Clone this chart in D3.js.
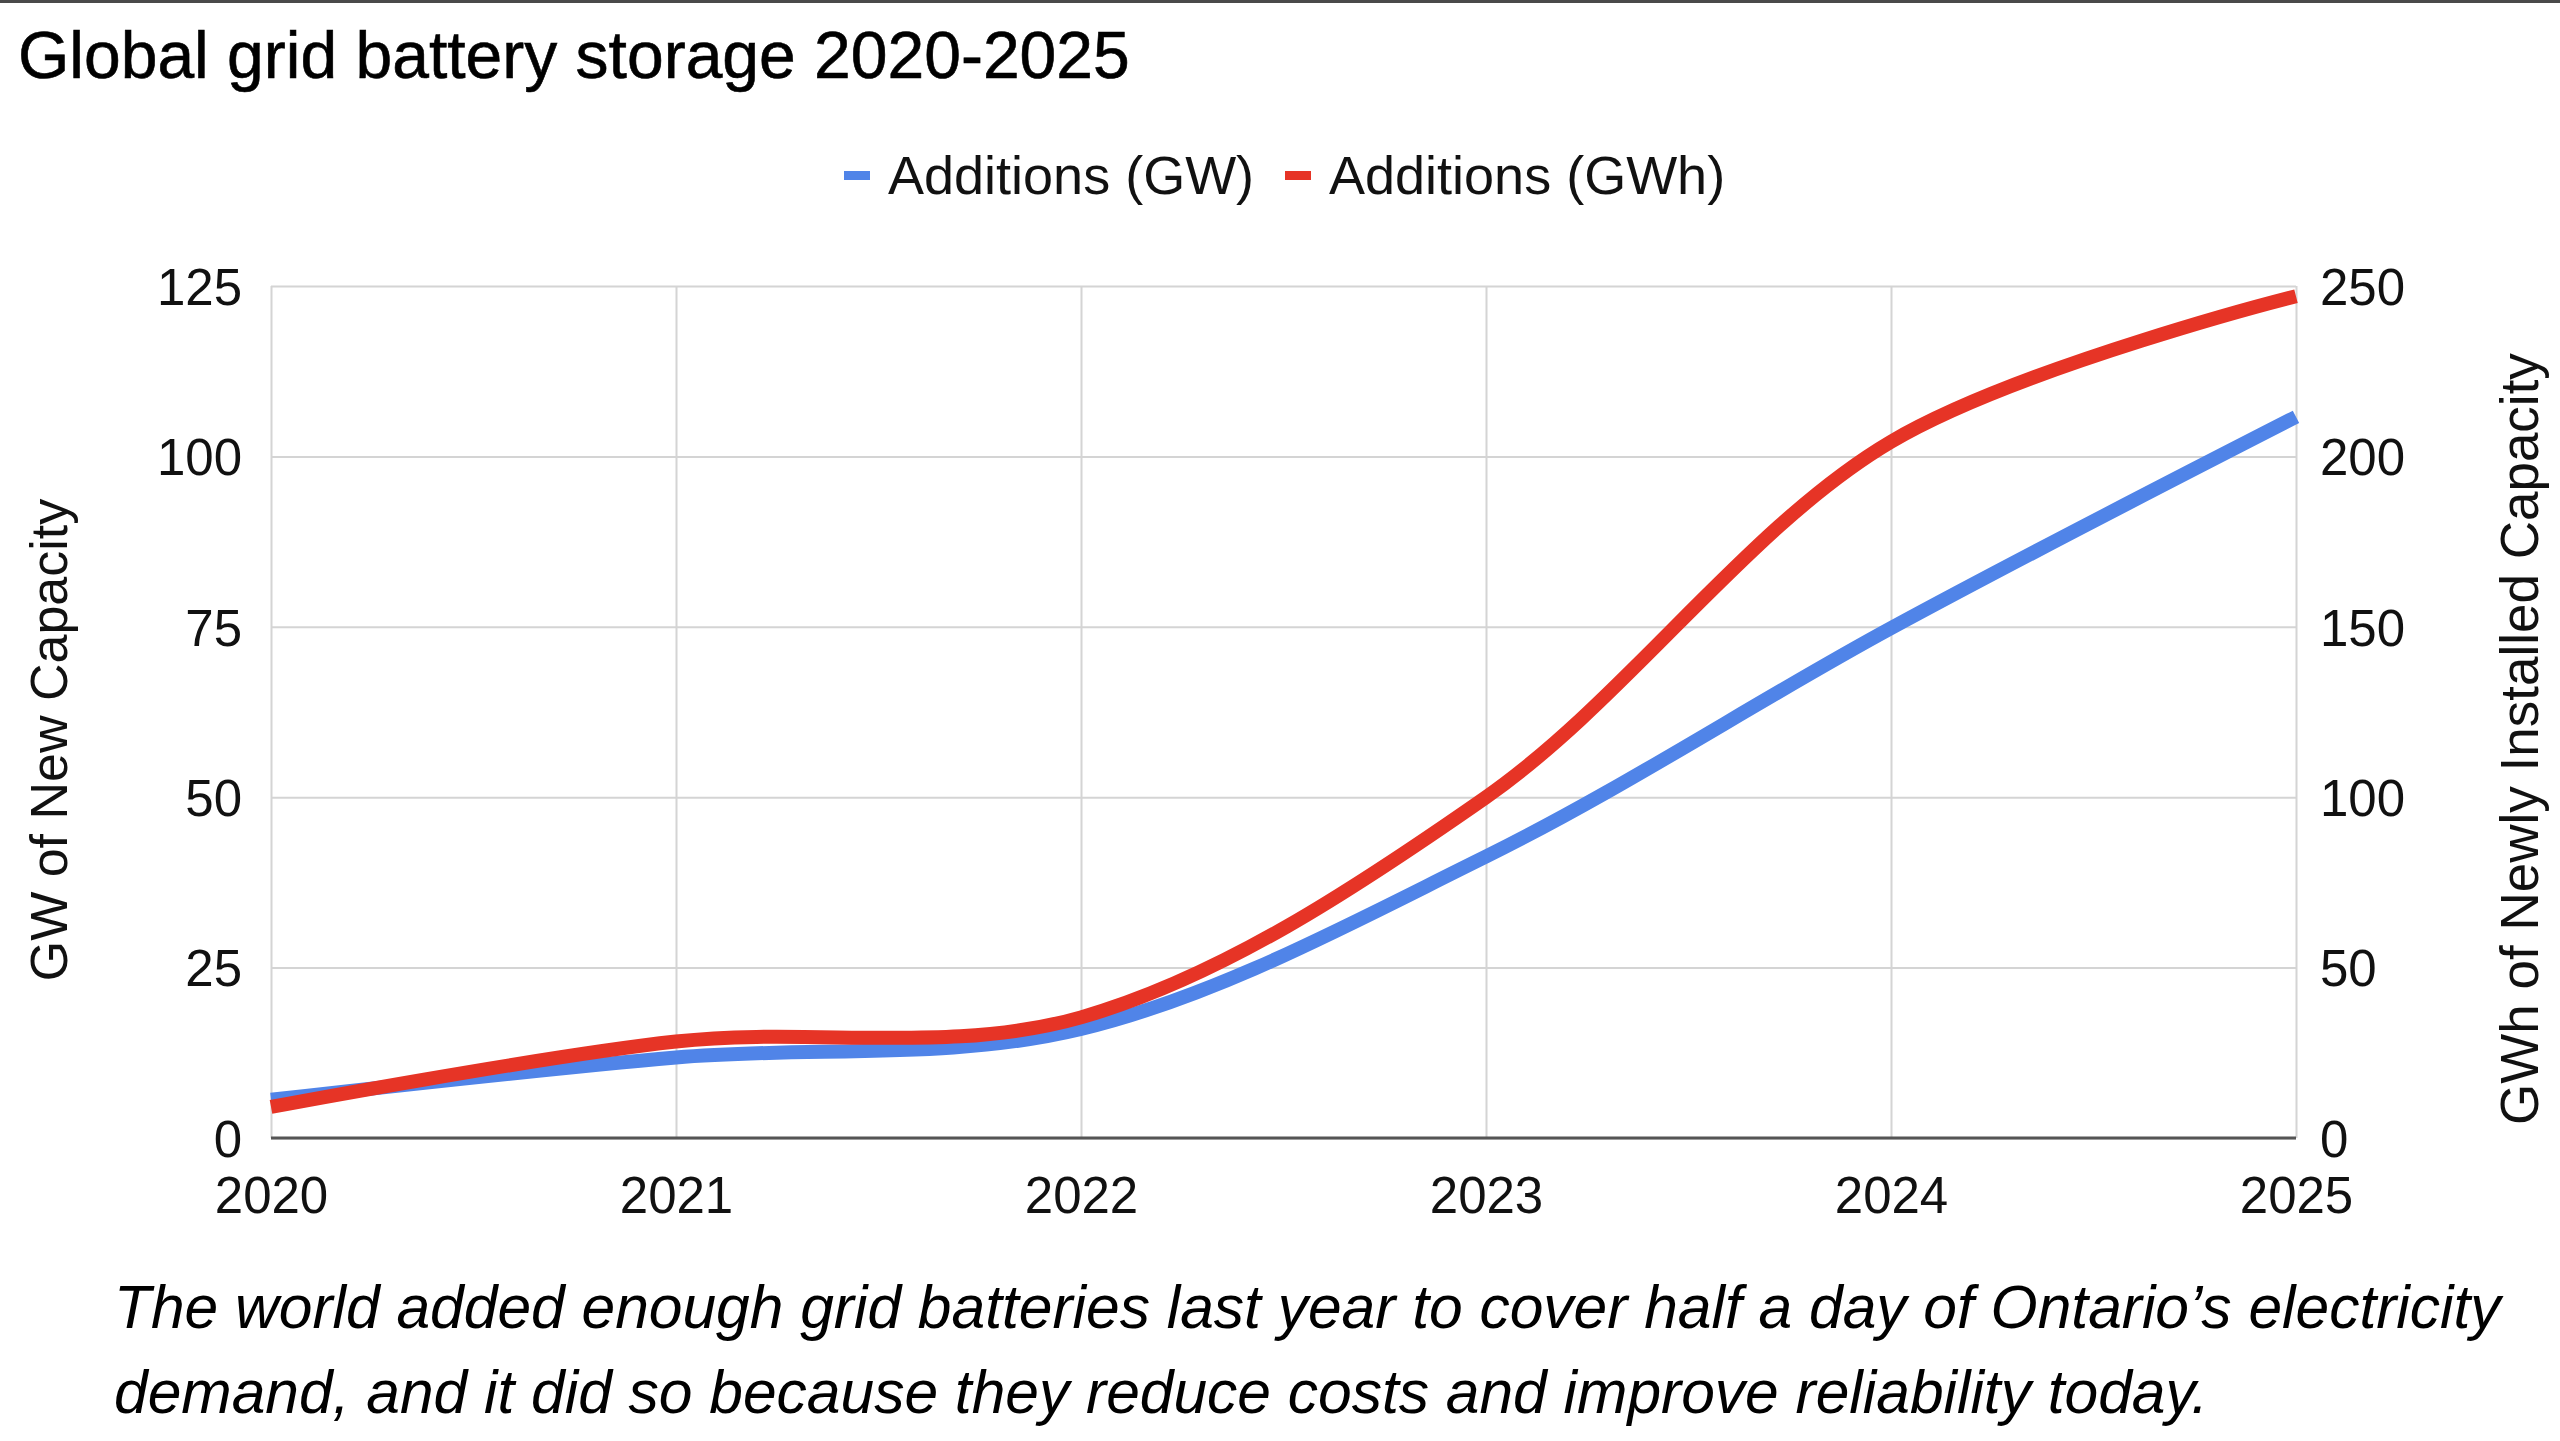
<!DOCTYPE html>
<html lang="en">
<head>
    <meta charset="UTF-8">
    <title>Global grid battery storage 2020-2025</title>
    <script src="https://d3js.org/d3.v7.min.js"></script>
    <style>
        html, body { margin: 0; padding: 0; background: #fff; }
        body { font-family: 'Liberation Sans', Arial, Helvetica, sans-serif; }
        svg { display: block; }
    </style>
</head>
<body>
    <svg id="chart"></svg>

    <script>
        // values
        const years = [2020, 2021, 2022, 2023, 2024, 2025];
        const additionsGW = [5.6, 11.8, 16.0, 41.3, 74.8, 105.8];
        const additionsGWh = [9.1, 28.3, 35.4, 100, 204.3, 247];
        const leftTicks = [0, 25, 50, 75, 100, 125];
        const rightTicks = [0, 50, 100, 150, 200, 250];
        const seriesNames = ["Additions (GW)", "Additions (GWh)"];
        const seriesColors = ["#5084e8", "#e63426"];

        const width = 2560, height = 1441;
        const plot = { left: 271, right: 2296, top: 286, bottom: 1138 };

        const svg = d3.select("#chart").attr("width", width).attr("height", height);

        // thin dark rule across the very top
        svg.append("rect")
            .attr("x", 0).attr("y", 0)
            .attr("width", width).attr("height", 3)
            .attr("fill", "#4a4a4a");

        svg.append("text")
            .attr("x", 18)
            .attr("y", 78)
            .attr("font-size", 66)
            .attr("fill", "#000")
            .attr("stroke", "#000")
            .attr("stroke-width", 0.6)
            .text("Global grid battery storage 2020-2025");

        const x = d3.scaleLinear().domain([2020, 2025]).range([plot.left, plot.right]);
        const yLeft = d3.scaleLinear().domain([0, 125]).range([plot.bottom, plot.top]);
        const yRight = d3.scaleLinear().domain([0, 250]).range([plot.bottom, plot.top]);

        // left axis + horizontal gridlines
        const gLeft = svg.append("g")
            .attr("transform", `translate(${plot.left},0)`)
            .call(d3.axisLeft(yLeft)
                .tickValues(leftTicks)
                .tickSize(-(plot.right - plot.left))
                .tickPadding(29));

        // x axis + vertical gridlines
        const gX = svg.append("g")
            .attr("transform", `translate(0,${plot.bottom})`)
            .call(d3.axisBottom(x)
                .tickValues(years)
                .tickFormat(d3.format("d"))
                .tickSize(-(plot.bottom - plot.top))
                .tickPadding(39));

        const gRight = svg.append("g")
            .attr("transform", `translate(${plot.right},0)`)
            .call(d3.axisRight(yRight)
                .tickValues(rightTicks)
                .tickSize(0)
                .tickPadding(24));

        [gLeft, gX, gRight].forEach(g => {
            g.select(".domain").remove();
            g.selectAll(".tick line").attr("stroke", "#d4d4d4").attr("stroke-width", 2);
            g.selectAll(".tick text")
                .attr("font-size", 51)
                .attr("font-family", "'Liberation Sans', Arial, sans-serif")
                .attr("fill", "#111");
        });
        gLeft.selectAll(".tick text").attr("dy", "0.36em");
        gRight.selectAll(".tick text").attr("dy", "0.36em");

        // baseline
        svg.append("line")
            .attr("x1", plot.left).attr("x2", plot.right)
            .attr("y1", yLeft(0)).attr("y2", yLeft(0))
            .attr("stroke", "#555").attr("stroke-width", 3);

        // axis titles
        svg.append("text")
            .attr("transform", "translate(49,740) rotate(-90)")
            .attr("text-anchor", "middle")
            .attr("dy", "0.35em")
            .attr("font-size", 52)
            .attr("fill", "#111")
            .text("GW of New Capacity");

        svg.append("text")
            .attr("transform", "translate(2519,739) rotate(-90)")
            .attr("text-anchor", "middle")
            .attr("dy", "0.35em")
            .attr("font-size", 53)
            .attr("fill", "#111")
            .text("GWh of Newly Installed Capacity");

        // lines
        const lineGW = d3.line()
            .x((d, i) => x(years[i]))
            .y(d => yLeft(d))
            .curve(d3.curveCatmullRom.alpha(0.5));
        const lineGWh = d3.line()
            .x((d, i) => x(years[i]))
            .y(d => yRight(d))
            .curve(d3.curveCatmullRom.alpha(0.5));

        svg.append("path")
            .datum(additionsGW)
            .attr("d", lineGW)
            .attr("fill", "none")
            .attr("stroke", seriesColors[0])
            .attr("stroke-width", 14)
            .attr("stroke-linejoin", "round");

        svg.append("path")
            .datum(additionsGWh)
            .attr("d", lineGWh)
            .attr("fill", "none")
            .attr("stroke", seriesColors[1])
            .attr("stroke-width", 14)
            .attr("stroke-linejoin", "round");

        // legend
        const legendItems = [
            { name: seriesNames[0], color: seriesColors[0], x: 844 },
            { name: seriesNames[1], color: seriesColors[1], x: 1285 }
        ];
        const legend = svg.append("g");
        legendItems.forEach(item => {
            legend.append("rect")
                .attr("x", item.x).attr("y", 171)
                .attr("width", 26).attr("height", 9)
                .attr("fill", item.color);
            legend.append("text")
                .attr("x", item.x + 44)
                .attr("y", 194)
                .attr("font-size", 54)
                .attr("fill", "#111")
                .text(item.name);
        });

        // caption
        const caption = [
            "The world added enough grid batteries last year to cover half a day of Ontario\u2019s electricity",
            "demand, and it did so because they reduce costs and improve reliability today."
        ];
        svg.append("g").selectAll("text")
            .data(caption)
            .enter()
            .append("text")
            .attr("x", 114)
            .attr("y", (d, i) => 1328 + i * 85)
            .attr("font-size", 60.5)
            .attr("font-style", "italic")
            .attr("fill", "#000")
            .text(d => d);
    </script>
</body>
</html>
